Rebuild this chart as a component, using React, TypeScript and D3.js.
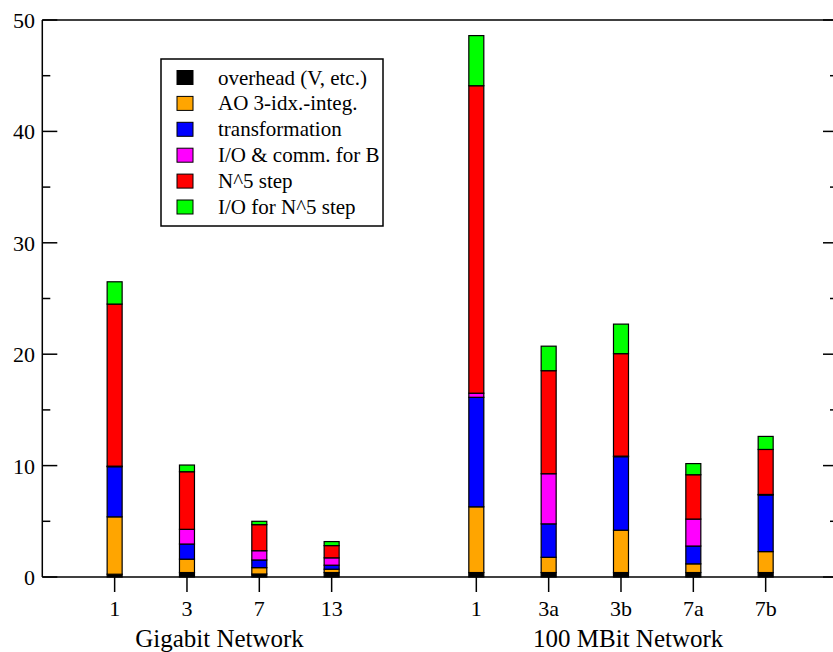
import React from "react";
import * as d3 from "d3";

const seriesNames = [
  "overhead (V, etc.)",
  "AO 3-idx.-integ.",
  "transformation",
  "I/O & comm. for B",
  "N^5 step",
  "I/O for N^5 step",
];
const seriesColors = ["#000000", "#FFA500", "#0000FF", "#FF00FF", "#FF0000", "#00FF00"];

const categories = ["1", "3", "7", "13", "1", "3a", "3b", "7a", "7b"];
const positions = [1, 2, 3, 4, 6, 7, 8, 9, 10];

const overhead = [0.25, 0.4, 0.27, 0.4, 0.4, 0.4, 0.4, 0.4, 0.4];
const aoInteg = [5.15, 1.2, 0.57, 0.3, 5.9, 1.37, 3.8, 0.78, 1.88];
const transformation = [4.5, 1.36, 0.69, 0.36, 9.83, 3.0, 6.6, 1.6, 5.08];
const ioCommB = [0.05, 1.32, 0.83, 0.66, 0.37, 4.5, 0.05, 2.42, 0.05];
const n5Step = [14.55, 5.17, 2.34, 1.1, 27.6, 9.25, 9.2, 3.98, 4.04];
const ioN5 = [2.0, 0.6, 0.3, 0.36, 4.5, 2.2, 2.65, 1.0, 1.17];

const groupLabels = ["Gigabit Network", "100 MBit Network"];
const groupCenters = [2.45, 8.1];

const yMajorTicks = [0, 10, 20, 30, 40, 50];
const yMinorTicks = [5, 15, 25, 35, 45];

const W = 833;
const H = 652;
const FONT = "'Liberation Serif', 'Times New Roman', serif";

export default function App() {
  const x = d3.scaleLinear().domain([0, 11]).range([42.3, 838]);
  const y = d3.scaleLinear().domain([0, 50]).range([577, 20]);

  const table = categories.map((c, i) => ({
    key: i,
    s0: overhead[i],
    s1: aoInteg[i],
    s2: transformation[i],
    s3: ioCommB[i],
    s4: n5Step[i],
    s5: ioN5[i],
  }));
  const keys = ["s0", "s1", "s2", "s3", "s4", "s5"];
  const stacked = d3.stack<any>().keys(keys)(table);

  const barW = 15;
  const x0 = x(0);
  const x1 = x(11);
  const yTop = y(50);
  const yBot = y(0);

  const legendX = 161;
  const legendY = 59;
  const legendW = 222;
  const legendH = 167;

  return (
    <svg
      width={W}
      height={H}
      style={{ position: "absolute", left: 0, top: 0, background: "#fff" }}
      fontFamily={FONT}
    >
      <rect x={0} y={0} width={W} height={H} fill="#fff" />
      {/* bars */}
      {stacked.map((layer, li) => (
        <g key={li}>
          {layer.map((d, i) => {
            const h = y(d[0]) - y(d[1]);
            return (
              <rect
                key={i}
                x={x(positions[i]) - barW / 2}
                y={y(d[1])}
                width={barW}
                height={Math.max(h, 0)}
                fill={seriesColors[li]}
                stroke="#000"
                strokeWidth={1.2}
              />
            );
          })}
        </g>
      ))}
      {/* frame */}
      <line x1={x0} x2={x0} y1={yTop} y2={yBot} stroke="#000" strokeWidth={1.5} />
      <line x1={x1} x2={x1} y1={yTop} y2={yBot} stroke="#000" strokeWidth={1.5} />
      <line x1={x0} x2={x1} y1={yTop} y2={yTop} stroke="#000" strokeWidth={1.5} />
      <line x1={x0} x2={x1} y1={yBot} y2={yBot} stroke="#000" strokeWidth={1.5} />
      {/* y ticks */}
      {yMajorTicks.map((t) => (
        <g key={"M" + t}>
          <line x1={x0} x2={x0 + 15} y1={y(t)} y2={y(t)} stroke="#000" strokeWidth={1.5} />
          <line x1={x1 - 15} x2={x1} y1={y(t)} y2={y(t)} stroke="#000" strokeWidth={1.5} />
          <text
            x={35}
            y={y(t) + 8}
            textAnchor="end"
            fontSize={22}
            fill="#000"
          >
            {t}
          </text>
        </g>
      ))}
      {yMinorTicks.map((t) => (
        <g key={"m" + t}>
          <line x1={x0} x2={x0 + 8} y1={y(t)} y2={y(t)} stroke="#000" strokeWidth={1.5} />
          <line x1={x1 - 8} x2={x1} y1={y(t)} y2={y(t)} stroke="#000" strokeWidth={1.5} />
        </g>
      ))}
      {/* x ticks */}
      {categories.map((c, i) => (
        <g key={"x" + i}>
          <line
            x1={x(positions[i])}
            x2={x(positions[i])}
            y1={yBot}
            y2={yBot + 15}
            stroke="#000"
            strokeWidth={1.5}
          />
          <text x={x(positions[i])} y={616} textAnchor="middle" fontSize={22} fill="#000">
            {c}
          </text>
        </g>
      ))}
      {groupLabels.map((g, i) => (
        <text key={g} x={x(groupCenters[i])} y={647} textAnchor="middle" fontSize={25} fill="#000">
          {g}
        </text>
      ))}
      {/* legend */}
      <rect
        x={legendX}
        y={legendY}
        width={legendW}
        height={legendH}
        fill="#fff"
        stroke="#000"
        strokeWidth={1.5}
      />
      {seriesNames.map((n, i) => {
        const cy = 77.5 + i * 25.9;
        return (
          <g key={n}>
            <rect x={177} y={cy - 7} width={16} height={14} fill={seriesColors[i]} stroke="#000" strokeWidth={1} />
            <text x={218} y={cy + 7} fontSize={21} fill="#000">
              {n}
            </text>
          </g>
        );
      })}
    </svg>
  );
}
